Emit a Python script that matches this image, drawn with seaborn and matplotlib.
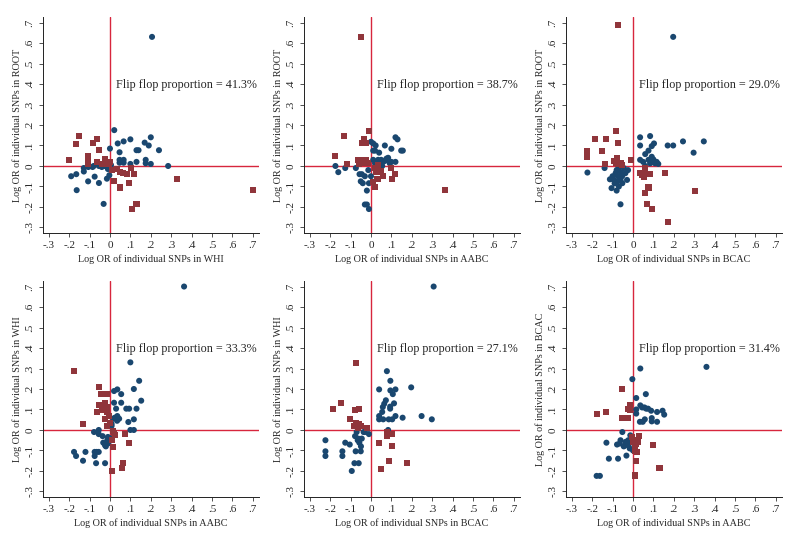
import matplotlib
matplotlib.use("Agg")
import matplotlib.pyplot as plt
import pandas as pd
import seaborn as sns

# ---------------- data ----------------
tick_values = [-0.3, -0.2, -0.1, 0.0, 0.1, 0.2, 0.3, 0.4, 0.5, 0.6, 0.7]
tick_labels = ["-.3", "-.2", "-.1", "0", ".1", ".2", ".3", ".4", ".5", ".6", ".7"]

# (x, y) pairs; "blue" = concordant direction, "red" = flip flop
p1_blue = [(0.206, 0.63), (0.021, 0.175), (0.20, 0.14), (0.10, 0.13), (0.067, 0.12), (0.038, 0.11),
           (0.17, 0.114), (0.19, 0.10), (0.0, 0.085), (0.24, 0.077), (0.13, 0.077), (0.14, 0.077),
           (0.047, 0.067), (0.047, 0.03), (0.067, 0.03), (0.047, 0.016), (0.067, 0.016), (0.175, 0.03),
           (0.175, 0.013), (0.20, 0.01), (0.13, 0.02), (0.10, 0.01), (0.285, 0.0), (-0.19, -0.05),
           (-0.165, -0.04), (-0.163, -0.118), (-0.128, -0.01), (-0.128, -0.027), (-0.107, -0.075),
           (-0.106, -0.005), (-0.085, -0.005), (-0.075, -0.052), (-0.054, 0.0), (-0.054, -0.083),
           (-0.031, -0.185), (-0.015, -0.062), (-0.003, -0.045), (0.0, 0.0), (-0.026, 0.0),
           (-0.04, -0.005), (-0.01, -0.015), (0.005, 0.005), (-0.08, 0.0)]
p1_red = [(-0.20, 0.03), (-0.165, 0.105), (-0.15, 0.148), (-0.106, 0.049), (-0.106, 0.035),
          (-0.106, 0.02), (-0.106, 0.01), (-0.085, 0.113), (-0.064, 0.132), (-0.052, 0.078),
          (-0.064, 0.021), (-0.023, 0.036), (-0.018, 0.02), (-0.03, 0.008), (-0.006, 0.01),
          (0.01, -0.02), (0.034, -0.013), (0.02, -0.073), (0.047, -0.03), (0.064, -0.032),
          (0.085, -0.04), (0.105, -0.012), (0.12, -0.04), (0.047, -0.105), (0.095, -0.083),
          (0.13, -0.185), (0.11, -0.21), (0.33, -0.063), (0.70, -0.118), (-0.04, 0.012), (0.0, 0.02)]

p2_blue = [(-0.174, 0.0), (-0.16, -0.03), (-0.126, -0.01), (-0.074, -0.01), (-0.056, -0.04),
           (-0.045, -0.04), (-0.05, -0.075), (-0.04, -0.084), (-0.03, -0.05), (-0.02, -0.12),
           (-0.03, -0.188), (-0.02, -0.188), (-0.01, -0.21), (-0.01, -0.084), (0.0, -0.05),
           (-0.013, -0.02), (0.0, 0.118), (0.011, 0.11), (0.023, 0.10), (0.068, 0.10), (0.011, 0.075),
           (0.02, 0.075), (0.04, 0.065), (0.12, 0.14), (0.13, 0.13), (0.10, 0.084), (0.148, 0.075),
           (0.156, 0.075), (0.076, 0.036), (0.06, 0.02), (0.035, 0.03), (0.044, 0.013), (0.092, 0.013),
           (0.10, 0.02), (0.12, 0.02), (0.011, 0.03), (0.02, 0.013), (0.05, 0.03), (0.084, 0.04),
           (0.07, 0.026), (0.03, -0.005), (0.055, 0.0)]
p2_red = [(-0.05, 0.63), (-0.174, 0.049), (-0.13, 0.146), (-0.116, 0.01), (-0.062, 0.03),
          (-0.055, 0.015), (-0.045, 0.03), (-0.038, 0.015), (-0.022, 0.03), (-0.016, 0.015),
          (-0.06, 0.01), (-0.032, 0.13), (-0.026, 0.114), (-0.042, 0.114), (-0.01, 0.172),
          (0.02, -0.01), (0.027, -0.027), (0.011, -0.076), (0.02, -0.104), (0.032, -0.065),
          (0.048, -0.027), (0.06, -0.05), (0.097, -0.01), (0.103, -0.065), (0.12, -0.04),
          (0.363, -0.117), (0.035, 0.005), (-0.03, 0.02)]

p3_blue = [(0.197, 0.63), (-0.223, -0.032), (-0.139, -0.01), (0.035, 0.14), (0.084, 0.146),
           (0.035, 0.10), (0.092, 0.097), (0.103, 0.11), (0.076, 0.075), (0.06, 0.058), (0.17, 0.10),
           (0.197, 0.10), (0.245, 0.12), (0.347, 0.12), (0.297, 0.065), (0.035, 0.03), (0.05, 0.02),
           (0.076, 0.03), (0.084, 0.013), (0.10, 0.032), (0.108, 0.013), (0.116, 0.02), (0.124, 0.01),
           (0.092, 0.045), (-0.113, -0.065), (-0.10, -0.05), (-0.105, -0.108), (-0.08, -0.12),
           (-0.061, -0.187), (-0.085, -0.035), (-0.074, -0.05), (-0.061, -0.068), (-0.052, -0.084),
           (-0.077, -0.076), (-0.094, -0.068), (-0.07, -0.01), (-0.045, -0.01), (-0.037, -0.035),
           (-0.029, -0.068), (-0.024, -0.02), (-0.053, -0.05), (-0.069, -0.1), (-0.09, -0.085),
           (-0.06, -0.03), (-0.08, -0.02), (0.06, 0.0), (0.095, 0.02)]
p3_red = [(-0.073, 0.687), (-0.223, 0.075), (-0.223, 0.045), (-0.185, 0.13), (-0.13, 0.13),
          (-0.15, 0.075), (-0.139, 0.01), (-0.084, 0.172), (-0.073, 0.11), (-0.094, 0.026),
          (-0.077, 0.037), (-0.073, 0.01), (-0.061, 0.013), (-0.053, 0.005), (-0.085, 0.013),
          (-0.01, 0.03), (0.035, -0.032), (0.044, -0.044), (0.06, -0.032), (0.052, -0.052),
          (0.084, -0.04), (0.06, -0.01), (0.156, -0.032), (0.06, -0.13), (0.076, -0.105),
          (0.068, -0.187), (0.095, -0.21), (0.305, -0.12), (0.173, -0.274)]

p4_blue = [(0.363, 0.70), (0.10, 0.33), (0.143, 0.24), (0.117, 0.20), (0.153, 0.143), (0.036, 0.198),
           (0.02, 0.19), (0.055, 0.175), (0.02, 0.133), (0.055, 0.133), (0.03, 0.104), (0.08, 0.104),
           (0.094, 0.104), (0.13, 0.104), (0.036, 0.068), (0.045, 0.055), (0.016, 0.055), (0.024, 0.06),
           (0.117, 0.052), (0.09, 0.039), (0.008, 0.03), (0.008, 0.02), (0.10, 0.0), (0.117, 0.0),
           (-0.078, -0.01), (-0.055, 0.0), (-0.055, -0.02), (-0.036, -0.03), (-0.033, -0.062),
           (-0.024, -0.075), (-0.013, -0.05), (-0.008, -0.065), (-0.176, -0.107), (-0.166, -0.127),
           (-0.12, -0.107), (-0.132, -0.15), (-0.075, -0.107), (-0.065, -0.107), (-0.055, -0.107),
           (-0.075, -0.127), (-0.068, -0.162), (-0.024, -0.162), (-0.01, -0.034), (-0.02, -0.08),
           (0.0, -0.04), (0.035, 0.045)]
p4_red = [(-0.176, 0.286), (-0.13, 0.03), (-0.054, 0.208), (-0.044, 0.175), (-0.016, 0.175),
          (-0.055, 0.123), (-0.065, 0.088), (-0.04, 0.10), (-0.023, 0.133), (-0.016, 0.113),
          (-0.013, 0.088), (-0.005, 0.07), (-0.023, 0.052), (-0.013, 0.02), (0.02, -0.013),
          (0.024, -0.026), (0.008, -0.05), (0.016, -0.083), (0.073, -0.02), (0.093, -0.062),
          (0.065, -0.162), (0.057, -0.185), (0.008, -0.2), (0.015, -0.005), (0.0, 0.035)]

p5_blue = [(0.307, 0.70), (0.078, 0.287), (0.095, 0.24), (0.095, 0.193), (0.107, 0.175), (0.12, 0.198),
           (0.04, 0.198), (0.197, 0.208), (0.073, 0.145), (0.065, 0.128), (0.058, 0.112), (0.055, 0.088),
           (0.113, 0.13), (0.094, 0.114), (0.094, 0.104), (0.04, 0.068), (0.04, 0.052), (0.06, 0.052),
           (0.087, 0.052), (0.104, 0.052), (0.12, 0.068), (0.155, 0.06), (0.248, 0.068), (0.298, 0.052),
           (0.084, 0.0), (-0.223, -0.05), (-0.223, -0.104), (-0.223, -0.127), (-0.126, -0.062),
           (-0.104, -0.071), (-0.14, -0.104), (-0.14, -0.127), (-0.081, -0.162), (-0.06, -0.162),
           (-0.094, -0.2), (-0.075, -0.104), (-0.05, -0.104), (-0.049, -0.08), (-0.078, -0.03),
           (-0.062, -0.042), (-0.045, -0.042), (-0.057, -0.062), (-0.03, -0.01), (-0.01, -0.02),
           (-0.036, -0.01), (-0.07, -0.01), (-0.065, -0.05)]
p5_red = [(-0.071, 0.328), (-0.185, 0.104), (-0.149, 0.133), (-0.104, 0.052), (-0.08, 0.096),
          (-0.06, 0.104), (-0.081, 0.02), (-0.071, 0.036), (-0.058, 0.031), (-0.049, 0.02),
          (-0.02, 0.01), (-0.065, 0.01), (0.078, -0.01), (0.078, -0.03), (0.104, -0.02),
          (0.04, -0.062), (0.105, -0.08), (0.087, -0.15), (0.175, -0.162), (0.05, -0.19)]

p6_blue = [(0.36, 0.308), (0.036, 0.30), (-0.003, 0.248), (0.016, 0.156), (0.063, 0.175), (0.036, 0.12),
           (0.045, 0.11), (0.056, 0.11), (0.065, 0.104), (0.074, 0.104), (0.089, 0.094), (0.016, 0.10),
           (0.016, 0.08), (0.118, 0.088), (0.145, 0.094), (0.153, 0.075), (0.092, 0.058), (0.092, 0.042),
           (0.118, 0.04), (0.034, 0.04), (0.048, 0.04), (0.058, 0.052), (-0.052, -0.01), (-0.13, -0.062),
           (-0.078, -0.071), (-0.065, -0.066), (-0.061, -0.05), (-0.036, -0.058), (-0.023, -0.05),
           (-0.04, -0.075), (-0.023, -0.075), (-0.016, -0.09), (-0.118, -0.14), (-0.073, -0.14),
           (-0.032, -0.125), (-0.178, -0.224), (-0.162, -0.224), (-0.013, -0.026), (0.0, -0.1),
           (-0.045, -0.08), (-0.005, -0.06)]
p6_red = [(-0.053, 0.198), (-0.178, 0.076), (-0.133, 0.086), (-0.053, 0.06), (-0.024, 0.06),
          (-0.024, 0.104), (-0.016, 0.12), (-0.013, 0.1), (-0.003, -0.035), (0.003, -0.05),
          (0.013, -0.07), (0.008, -0.09), (0.02, -0.107), (0.028, -0.03), (0.024, -0.06),
          (0.016, -0.15), (0.1, -0.071), (0.13, -0.187), (0.008, -0.222), (0.0, -0.06), (0.01, -0.1)]

x_labels = ["WHI", "AABC", "BCAC", "AABC", "BCAC", "AABC"]
y_labels = ["ROOT", "ROOT", "ROOT", "WHI", "WHI", "BCAC"]
flip_pct = ["41.3%", "38.7%", "29.0%", "33.3%", "27.1%", "31.4%"]
blues = [p1_blue, p2_blue, p3_blue, p4_blue, p5_blue, p6_blue]
reds = [p1_red, p2_red, p3_red, p4_red, p5_red, p6_red]

# ---------------- styling ----------------
sns.set_theme(style="ticks")
plt.rcParams["font.family"] = ["Liberation Serif", "DejaVu Serif"]

BLUE = "#1a476f"
RED = "#90353b"
LINE = "#d7263d"

fig = plt.figure(figsize=(8.0, 5.39), dpi=100)
W, H = 800, 539
lefts = [43, 304, 566]
bottoms = [233, 497]   # pixel y of bottom spine
aw, ah = 216, 216

for i in range(6):
    r, c = divmod(i, 3)
    ax = fig.add_axes([lefts[c] / W, (H - bottoms[r]) / H, aw / W, ah / H])
    rows = [(x, y, "same") for x, y in blues[i]] + [(x, y, "flip") for x, y in reds[i]]
    df = pd.DataFrame(rows, columns=["x", "y", "grp"])
    sns.scatterplot(data=df, x="x", y="y", hue="grp", style="grp",
                    palette={"same": BLUE, "flip": RED},
                    markers={"same": "o", "flip": "s"},
                    s=19, linewidth=0, legend=False, ax=ax, zorder=3)
    ax.axhline(0, color=LINE, lw=1.0, zorder=2)
    ax.axvline(0, color=LINE, lw=1.0, zorder=2)
    ax.set_xlim(-0.328, 0.73)
    ax.set_ylim(-0.327, 0.727)
    ax.set_xticks(tick_values)
    ax.set_xticklabels(tick_labels, fontsize=8)
    ax.set_yticks(tick_values)
    ax.set_yticklabels(tick_labels, fontsize=8, rotation=90, va="center")
    ax.tick_params(axis="both", length=3, width=0.6, color="#333333", pad=3)
    for s in ["top", "right"]:
        ax.spines[s].set_visible(False)
    for s in ["left", "bottom"]:
        ax.spines[s].set_linewidth(0.7)
        ax.spines[s].set_color("#222222")
    ax.set_xlabel(f"Log OR of individual SNPs in {x_labels[i]}", fontsize=7.3, labelpad=2.5)
    ax.set_ylabel(f"Log OR of individual SNPs in {y_labels[i]}", fontsize=7.3, labelpad=2.5)
    ax.text(0.03, 0.395, f"Flip flop proportion = {flip_pct[i]}", fontsize=8.7,
            ha="left", va="center")

fig.savefig("out.png", dpi=100)
